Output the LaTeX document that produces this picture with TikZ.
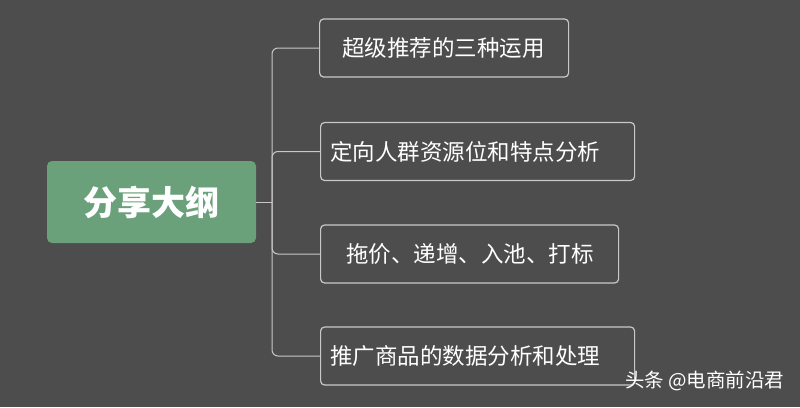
\documentclass[tikz,border=0pt]{standalone}
\usepackage{fontspec}
\newfontfamily\cjk{Noto Sans CJK SC}
\definecolor{bgcol}{HTML}{4D4D4D}
\definecolor{rootcol}{HTML}{6AA17A}
\definecolor{linecol}{HTML}{C8C8C8}
\tikzset{
  topic/.style={draw=linecol, line width=1.2pt, rounded corners=4pt, minimum height=58pt,
    anchor=west, inner sep=0pt},
  topictext/.style={text=white, font=\cjk\fontsize{22.5}{26}\selectfont, anchor=west, inner sep=0pt},
  branch/.style={draw=linecol, line width=1pt, rounded corners=6pt}
}
\begin{document}
\begin{tikzpicture}[x=1pt,y=-1pt]
  \fill[bgcol] (0,0) rectangle (800,407);
  \node[fill=rootcol, rounded corners=5pt, minimum width=209pt, minimum height=82pt,
    text=white, font=\cjk\bfseries\fontsize{34}{38}\selectfont] (root) at (151.5,202) {分享大纲};
  \node[topic, minimum width=249pt] (t1) at (319,48) {};
  \node[topic, minimum width=314pt] (t2) at (320,151.5) {};
  \node[topic, minimum width=298pt] (t3) at (320,254) {};
  \node[topic, minimum width=314pt] (t4) at (320,356) {};
  \node[topictext] (l1) at (342,48) {超级推荐的三种运用};
  \node[topictext] (l2) at (330,151.5) {定向人群资源位和特点分析};
  \node[topictext] (l3) at (346,254) {拖价、递增、入池、打标};
  \node[topictext] (l4) at (330,356) {推广商品的数据分析和处理};
  \coordinate (fork) at (272,202);
  \draw[linecol, line width=1pt] (root.east) -- (fork);
  \foreach \t in {t1,t2,t3,t4}
    \draw[branch] (fork) |- (\t.west);
  \node[text=white, font=\cjk\fontsize{19.5}{22}\selectfont, anchor=east] (mark) at (788,381) {头条 @电商前沿君};
\end{tikzpicture}
\end{document}
